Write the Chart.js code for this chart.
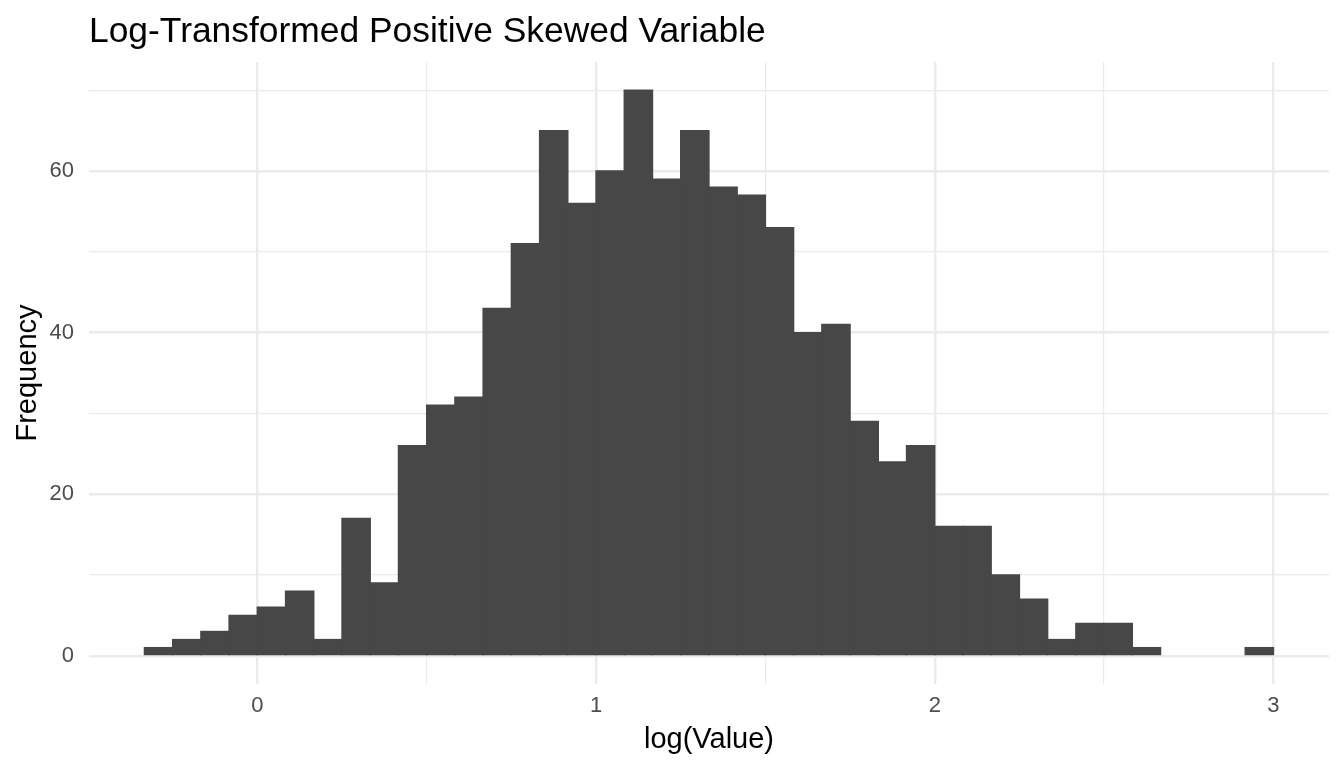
<!DOCTYPE html>
<html>
<head>
<meta charset="utf-8">
<script src="https://cdn.jsdelivr.net/npm/chart.js@4.4.0/dist/chart.umd.min.js"></script>
<style>
  body { margin: 0; background: #fff; }
  #wrap { width: 1344px; height: 768px; position: relative; }
</style>
</head>
<body>
<div id="wrap"><canvas id="chart"></canvas></div>
<script>
// histogram bins: 40 bins of width 1/12 starting at -1/3
const binStart = -1 / 3;
const binWidth = 1 / 12;
const counts = [
  1, 2, 3, 5, 6, 8, 2, 17, 9, 26,
  31, 32, 43, 51, 65, 56, 60, 70, 59, 65,
  58, 57, 53, 40, 41, 29, 24, 26, 16, 16,
  10, 7, 2, 4, 4, 1, 0, 0, 0, 1
];
const xTicks = [0, 0.5, 1, 1.5, 2, 2.5, 3];
const yTicks = [0, 10, 20, 30, 40, 50, 60, 70];
const xLabels = ["0", "1", "2", "3"];
const yLabels = ["0", "20", "40", "60"];

const binCenters = counts.map((_, i) => binStart + binWidth * (i + 0.5));
const points = counts.map((c, i) => ({ x: binCenters[i], y: c }));

const FONT = "'Liberation Sans', Arial, sans-serif";
const GRID = "#EBEBEB";
const BAR = "#474747";

const titlePlugin = {
  id: "plotTitle",
  afterDraw(chart) {
    const ctx = chart.ctx;
    ctx.save();
    ctx.font = "35.4px " + FONT;
    ctx.fillStyle = "#000000";
    ctx.textAlign = "left";
    ctx.textBaseline = "alphabetic";
    ctx.fillText("Log-Transformed Positive Skewed Variable", chart.chartArea.left, 42);
    ctx.restore();
  }
};

new Chart(document.getElementById("chart"), {
  type: "bar",
  data: {
    datasets: [{
      data: points,
      // empty bins are not painted (avoids a hairline at zero)
      backgroundColor: (c) => (c.raw && c.raw.y === 0 ? "rgba(0,0,0,0)" : BAR),
      borderWidth: 0,
      inflateAmount: 0.7,
      barPercentage: 1,
      categoryPercentage: 1
    }]
  },
  options: {
    responsive: true,
    maintainAspectRatio: false,
    devicePixelRatio: 1,
    animation: false,
    layout: { padding: { top: 62, right: 15, bottom: 0, left: 0 } },
    plugins: {
      legend: { display: false },
      tooltip: { enabled: false }
    },
    scales: {
      x: {
        type: "linear",
        offset: false,
        min: -0.497,
        max: 3.164,
        afterBuildTicks: (scale) => { scale.ticks = xTicks.map(v => ({ value: v })); },
        afterFit: (scale) => { scale.height = 84; },
        border: { display: false },
        grid: {
          offset: false,
          color: GRID,
          drawTicks: false,
          lineWidth: (c) => (c.tick && Number.isInteger(c.tick.value) ? 2.4 : 1.2)
        },
        ticks: {
          padding: 9,
          color: "#4D4D4D",
          font: { family: FONT, size: 22 },
          maxRotation: 0,
          autoSkip: false,
          callback: (v) => (xLabels.includes(String(v)) ? String(v) : "")
        },
        title: {
          display: true,
          text: "log(Value)",
          color: "#000000",
          font: { family: FONT, size: 29 },
          padding: { top: 0, bottom: 11 }
        }
      },
      y: {
        min: -3.5,
        max: 73.5,
        afterBuildTicks: (scale) => { scale.ticks = yTicks.map(v => ({ value: v })); },
        afterFit: (scale) => { scale.width = 89; },
        border: { display: false },
        grid: {
          color: GRID,
          drawTicks: false,
          lineWidth: (c) => (c.tick && c.tick.value % 20 === 0 ? 2.4 : 1.2)
        },
        ticks: {
          padding: 15,
          color: "#4D4D4D",
          font: { family: FONT, size: 22 },
          autoSkip: false,
          callback: (v) => (yLabels.includes(String(v)) ? String(v) : "")
        },
        title: {
          display: true,
          text: "Frequency",
          color: "#000000",
          font: { family: FONT, size: 29 },
          padding: { top: 11, bottom: 0 }
        }
      }
    }
  },
  plugins: [titlePlugin]
});
</script>
</body>
</html>
